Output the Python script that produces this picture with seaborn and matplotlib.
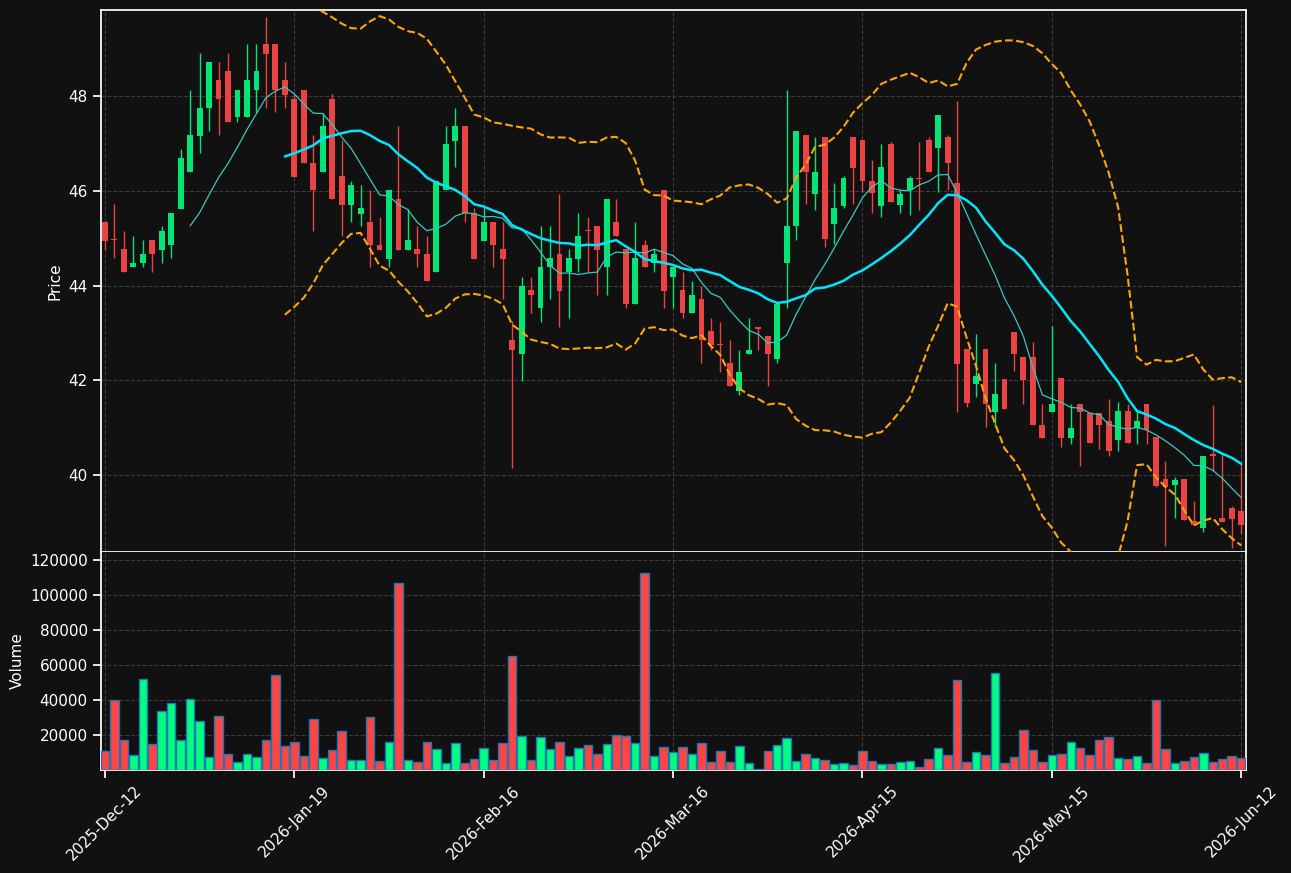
import numpy as np
import pandas as pd
import matplotlib
matplotlib.use('Agg')
import matplotlib.pyplot as plt
import seaborn as sns

# daily OHLC + volume
opens = [45.35, 44.97, 44.77, 44.39, 44.47, 44.96, 44.76, 44.85, 45.62, 46.39,
         47.16, 47.74, 48.34, 48.53, 47.55, 47.55, 48.12, 49.09, 49.09, 48.34,
         47.94, 48.13, 46.59, 46.39, 47.94, 46.31, 45.71, 45.52, 45.35, 44.86,
         44.57, 45.83, 44.76, 44.77, 44.67, 44.28, 46.01, 47.06, 47.37, 45.54,
         44.95, 45.35, 44.77, 42.85, 42.55, 43.91, 43.52, 44.39, 44.67, 44.28,
         44.57, 45.17, 45.26, 44.39, 45.35, 44.77, 43.60, 44.86, 44.47, 46.02,
         44.17, 43.91, 43.42, 43.72, 43.04, 42.75, 42.37, 41.77, 42.55, 43.12,
         42.93, 42.44, 44.47, 45.25, 47.18, 45.93, 47.13, 45.29, 45.67, 47.13,
         47.08, 46.20, 45.67, 46.99, 45.71, 46.01, 46.26, 47.08, 46.91, 47.13,
         46.17, 42.65, 41.92, 42.65, 41.34, 42.03, 43.01, 42.50, 42.50, 41.06,
         41.34, 42.05, 40.79, 41.50, 41.30, 41.30, 41.15, 40.73, 41.36, 41.00,
         41.50, 40.81, 39.91, 39.78, 39.91, 39.02, 38.89, 40.45, 39.09, 39.31, 39.24]
highs = [45.35, 45.72, 45.16, 45.05, 44.96, 44.96, 45.25, 45.54, 46.88, 48.12,
         48.90, 48.72, 48.71, 48.90, 48.13, 49.09, 49.09, 49.66, 49.09, 48.71,
         48.04, 48.13, 47.18, 47.64, 48.04, 47.07, 46.20, 46.12, 46.01, 45.44,
         46.02, 47.37, 45.62, 45.25, 45.05, 46.20, 47.37, 47.74, 47.37, 45.63,
         45.63, 45.35, 45.34, 43.25, 44.18, 44.18, 45.25, 45.25, 45.93, 44.77,
         45.54, 45.44, 45.26, 45.83, 45.83, 44.77, 45.34, 44.96, 44.77, 46.02,
         44.39, 44.28, 44.09, 44.00, 43.32, 43.23, 42.85, 42.64, 43.32, 43.12,
         42.93, 43.62, 48.12, 47.27, 47.18, 47.13, 47.13, 46.16, 46.31, 47.13,
         47.08, 46.64, 46.98, 47.02, 46.02, 46.31, 47.02, 47.13, 47.60, 47.18,
         47.89, 42.65, 42.98, 42.65, 42.36, 42.03, 43.01, 42.50, 42.81, 41.50,
         43.15, 42.05, 41.50, 41.50, 41.30, 41.30, 41.61, 41.55, 41.50, 41.35,
         41.50, 40.81, 40.29, 39.96, 39.91, 39.45, 40.41, 41.47, 40.44, 39.35, 40.23]
lows = [44.75, 44.58, 44.28, 44.39, 44.39, 44.28, 44.47, 44.58, 45.62, 46.39,
        46.79, 47.26, 47.17, 47.46, 47.46, 47.55, 47.67, 47.74, 47.66, 47.74,
        46.30, 46.58, 45.15, 46.39, 45.82, 45.05, 45.34, 45.25, 44.39, 44.76,
        44.39, 44.76, 44.76, 44.39, 44.09, 44.28, 46.01, 46.50, 45.34, 44.57,
        44.95, 44.39, 43.71, 40.15, 41.98, 43.42, 43.23, 43.71, 43.12, 43.32,
        44.28, 44.28, 43.80, 43.80, 45.04, 43.52, 43.60, 44.39, 44.28, 43.52,
        43.52, 43.32, 43.42, 42.36, 42.64, 42.17, 41.87, 41.69, 42.55, 42.64,
        41.88, 42.36, 43.52, 44.96, 45.72, 45.59, 44.81, 44.88, 45.63, 45.72,
        45.97, 45.53, 45.44, 45.77, 45.53, 45.49, 45.59, 46.39, 45.97, 46.01,
        41.34, 41.44, 41.65, 41.01, 41.01, 41.39, 42.19, 41.50, 41.05, 40.79,
        41.34, 40.59, 40.65, 40.19, 40.68, 40.54, 40.40, 40.50, 40.68, 40.65,
        40.65, 39.74, 38.51, 39.09, 39.05, 38.94, 38.80, 40.08, 39.00, 38.45, 38.76]
closes = [44.95, 44.96, 44.28, 44.48, 44.67, 44.66, 45.16, 45.54, 46.70, 47.18,
          47.75, 48.72, 47.93, 47.46, 48.13, 48.34, 48.53, 48.89, 48.12, 48.03,
          46.30, 46.58, 46.01, 47.37, 45.82, 45.71, 46.12, 45.64, 44.85, 44.76,
          46.02, 44.76, 44.96, 44.66, 44.09, 46.20, 46.99, 47.37, 45.54, 44.57,
          45.35, 44.85, 44.57, 42.63, 44.00, 43.79, 44.39, 44.58, 43.89, 44.58,
          45.05, 45.16, 44.76, 45.83, 45.04, 43.60, 44.58, 44.39, 44.67, 43.89,
          44.39, 43.42, 43.81, 42.85, 42.74, 42.74, 41.87, 42.17, 42.64, 43.09,
          42.55, 43.62, 45.26, 47.27, 46.39, 46.40, 44.99, 45.63, 46.26, 46.49,
          46.20, 45.96, 46.50, 45.77, 45.93, 46.26, 46.25, 46.39, 47.60, 46.58,
          42.35, 41.53, 42.08, 41.49, 41.70, 41.39, 42.55, 42.00, 41.05, 40.79,
          41.50, 40.79, 41.00, 41.34, 40.68, 41.05, 40.50, 41.36, 40.68, 41.15,
          40.95, 39.77, 39.74, 39.90, 39.05, 38.94, 40.41, 40.40, 39.00, 39.08, 38.94]
volumes = [10900, 40000, 17100, 8600, 52000, 14900, 33700, 38300, 17100, 40600,
           28000, 7400, 30900, 9100, 4600, 9100, 7400, 17100, 54300, 13700,
           16000, 8000, 29100, 6900, 11400, 22300, 5700, 5700, 30300, 5100,
           16000, 106900, 5700, 4600, 16000, 12000, 4000, 15400, 4000, 6300,
           12600, 5700, 15400, 65200, 19400, 5700, 18900, 12000, 16000, 8000,
           12600, 14300, 9100, 14900, 20000, 19400, 15400, 112600, 8000, 13100,
           10300, 13100, 9100, 15400, 4600, 10900, 4600, 13700, 4000, 300,
           10900, 14300, 18300, 5100, 9100, 6900, 5700, 3400, 4000, 2900,
           10900, 5100, 3400, 3400, 4600, 5100, 1700, 6300, 12600, 8600,
           51400, 4600, 10300, 8600, 55400, 4000, 7400, 22900, 11400, 4600,
           8600, 9100, 16000, 12600, 8600, 17100, 18900, 6900, 6300, 8000,
           4000, 40000, 12000, 4000, 5100, 7400, 9700, 4600, 6300, 8000, 6900]
tick_pos = [0, 20, 40, 60, 80, 100, 120]
tick_labels = ['2025-Dec-12', '2026-Jan-19', '2026-Feb-16', '2026-Mar-16',
               '2026-Apr-15', '2026-May-15', '2026-Jun-12']

bg = '#111111'
sns.set_theme(style='dark', rc={
    'figure.facecolor': bg, 'axes.facecolor': bg, 'axes.edgecolor': 'white',
    'axes.labelcolor': 'white', 'xtick.color': 'white', 'ytick.color': 'white',
    'text.color': 'white', 'axes.grid': True, 'grid.color': '#3a3a3a',
    'grid.linestyle': '--', 'grid.linewidth': 0.8,
    'xtick.bottom': True, 'ytick.left': True,
})
plt.rcParams['font.family'] = ['DejaVu Sans']

df = pd.DataFrame({'Open': opens, 'High': highs, 'Low': lows,
                   'Close': closes, 'Volume': volumes})
df['idx'] = np.arange(len(df))
df['ma10'] = df['Close'].rolling(10).mean()
df['ma20'] = df['Close'].rolling(20).mean()
sd = df['Close'].rolling(20).std()
df['bb_up'] = df['ma20'] + 2 * sd
df['bb_lo'] = df['ma20'] - 2 * sd
up = df['Close'] >= df['Open']

fig = plt.figure(figsize=(12.91, 8.73), dpi=100)
ax = fig.add_axes([0.0782, 0.3677, 0.8869, 0.6208])
axv = fig.add_axes([0.0782, 0.118, 0.8869, 0.2497], sharex=ax)

c_up, c_dn = '#00e676', '#ea4343'
cols = np.where(up, c_up, c_dn)

# candles
ax.vlines(df['idx'], df['Low'], df['High'], colors=cols, linewidth=1, zorder=3)
body = (df['Close'] - df['Open']).abs().clip(lower=0.015)
ax.bar(df['idx'], body, bottom=df[['Open', 'Close']].min(axis=1),
       width=0.62, color=cols, linewidth=0, zorder=4)

sns.lineplot(data=df, x='idx', y='ma10', ax=ax, color='#36c9c0', linewidth=0.9, zorder=5)
sns.lineplot(data=df, x='idx', y='ma20', ax=ax, color='#00e5ff', linewidth=1.8, zorder=5)
for c in ['bb_up', 'bb_lo']:
    sns.lineplot(data=df, x='idx', y=c, ax=ax, color='orange', linewidth=1.5,
                 linestyle='--', zorder=5)

ax.set_ylim(38.375, 49.815)
ax.set_xlim(-0.42, 120.5)
ax.set_yticks([40, 42, 44, 46, 48])
ax.set_ylabel('Price', fontsize=11)
ax.set_xlabel('')
ax.tick_params(axis='x', labelbottom=False, length=0)
ax.tick_params(axis='y', labelsize=11)

# volume
vcols = np.where(up, '#00ff80', '#ff4444')
axv.bar(df['idx'], df['Volume'], width=0.9, color=vcols,
        edgecolor='#1f77b4', linewidth=1, zorder=3)
axv.set_ylim(0, max(volumes) * 1.106)
axv.set_yticks([20000, 40000, 60000, 80000, 100000, 120000])
axv.set_ylabel('Volume', fontsize=11)
axv.set_xticks(tick_pos)
axv.set_xticklabels(tick_labels, rotation=45, fontsize=11)
axv.tick_params(axis='y', labelsize=11)

for a in (ax, axv):
    a.grid(True, axis='both')
    for s in a.spines.values():
        s.set_color('white')
axv.spines['top'].set_visible(False)

fig.savefig('out.png', dpi=100, facecolor=bg)
plt.close(fig)
